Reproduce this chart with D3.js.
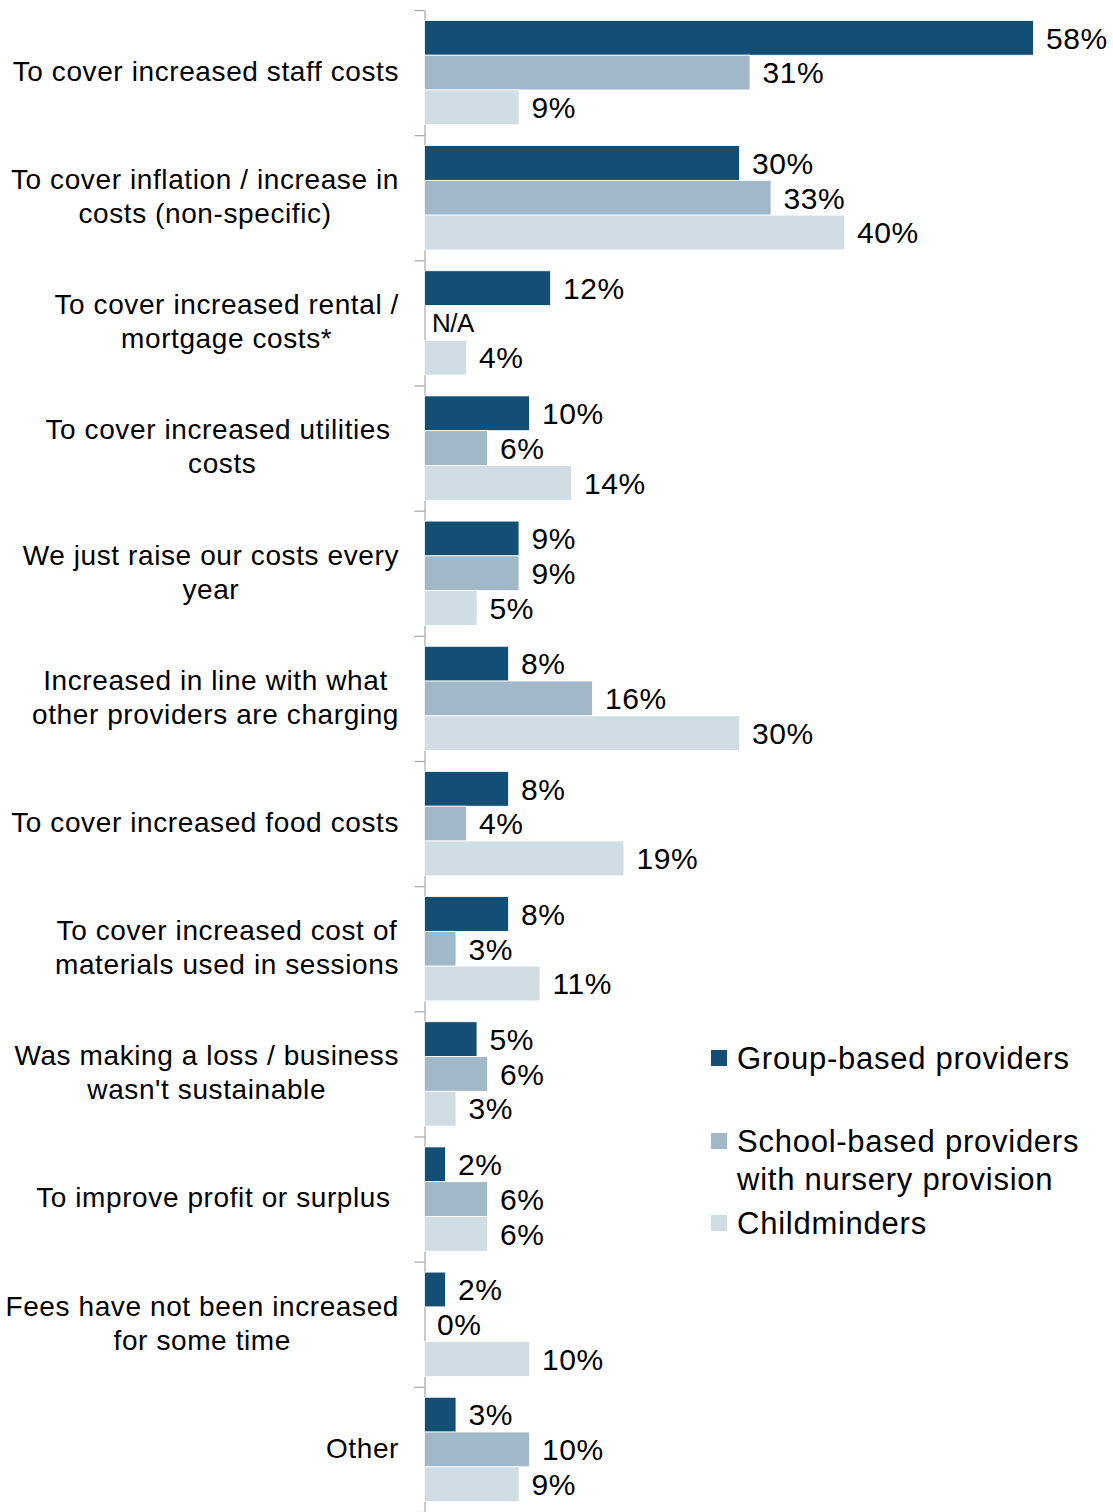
<!DOCTYPE html>
<html>
<head>
<meta charset="utf-8">
<script src="https://cdn.jsdelivr.net/npm/d3@7"></script>
<style>
	body { margin: 0; background: #fff; }
	text { font-family: 'Liberation Sans', Arial, sans-serif; fill: #000; white-space: pre; }
</style>
</head>
<body>
<svg id="chart" width="1113" height="1512"></svg>
<script>
// category labels, one entry per line
const categories = [
	['To cover increased staff costs'],
	['To cover inflation / increase in', 'costs (non-specific)'],
	['To cover increased rental /', 'mortgage costs*'],
	['To cover increased utilities ', 'costs'],
	['We just raise our costs every', 'year'],
	['Increased in line with what', 'other providers are charging'],
	['To cover increased food costs'],
	['To cover increased cost of', 'materials used in sessions'],
	['Was making a loss / business', "wasn't sustainable"],
	['To improve profit or surplus '],
	['Fees have not been increased', 'for some time'],
	['Other']
]

const seriesNames = ['Group-based providers', 'School-based providers\nwith nursery provision', 'Childminders']
const groupBased = [58, 30, 12, 10, 9, 8, 8, 8, 5, 2, 2, 3]
const schoolBased = [31, 33, null, 6, 9, 16, 4, 3, 6, 6, 0, 10]
const childminders = [9, 40, 4, 14, 5, 30, 19, 11, 3, 6, 10, 9]
const colors = ['#134f74', '#a0b8c8', '#d0dde5']

const series = [groupBased, schoolBased, childminders]

const svg = d3.select('#chart')

let y = d3.scaleBand()
	.domain(d3.range(categories.length))
	.range([10, 1512])

let inner = d3.scaleBand()
	.domain(d3.range(series.length))
	.range([0, y.bandwidth()])
	.paddingOuter(0.3)

let x = d3.scaleLinear()
	.domain([0, 60])
	.range([424, 1054])

// axis with ticks on category boundaries
let edges = d3.scaleLinear()
	.domain([0, categories.length])
	.range([10, 1512])

svg.append('g')
	.attr('transform', 'translate(424.5,0)')
	.call(
		d3.axisLeft(edges)
			.tickValues(d3.range(categories.length + 1))
			.tickFormat('')
			.tickSize(10)
			.tickSizeOuter(0)
	)
	.call(g => g.selectAll('line, path').attr('stroke', '#a6a6a6').attr('stroke-width', 1.2))

series.forEach((values, s) => {
	let rows = values.map((v, i) => ({v, i}))
	let g = svg.append('g').attr('class', 'series-' + s)

	g.selectAll('rect')
		.data(rows.filter(d => d.v !== null))
		.join('rect')
		.attr('x', x(0) + 0.5)
		.attr('y', d => y(d.i) + inner(s))
		.attr('width', d => x(d.v) - x(0))
		.attr('height', inner.bandwidth())
		.attr('fill', colors[s])
		.attr('stroke', '#fff')
		.attr('stroke-width', 0.8)

	g.selectAll('text')
		.data(rows)
		.join('text')
		.attr('x', d => d.v === null ? x(0) + 8 : x(d.v) + 13)
		.attr('y', d => y(d.i) + inner(s) + inner.bandwidth() / 2)
		.attr('dy', '0.36em')
		.style('font-size', d => d.v === null ? '26px' : '30px')
		.style('letter-spacing', d => d.v === null ? '-0.5px' : '0.6px')
		.text(d => d.v === null ? 'N/A' : d.v + '%')
})

// category labels: lines centred on each other, block right aligned
const labelRight = 399
const lineGap = 34

svg.selectAll('.cat')
	.data(categories)
	.join('g')
	.attr('class', 'cat')
	.attr('transform', (d, i) => `translate(0,${y(i)})`)
	.each(function(lines) {
		let texts = d3.select(this).selectAll('text')
			.data(lines)
			.join('text')
			.style('font-size', '28px')
			.style('letter-spacing', '0.6px')
			.attr('text-anchor', 'middle')
			.text(d => d)
		let widest = d3.max(texts.nodes(), n => n.getComputedTextLength())
		let cy = y.bandwidth() / 2
		texts
			.attr('x', labelRight - widest / 2)
			.attr('y', (d, k) => cy + (k - (lines.length - 1) / 2) * lineGap)
			.attr('dy', '0.3em')
	})

// legend
const legendTop = [1058, 1141, 1223]

let legend = svg.selectAll('.legend')
	.data(seriesNames)
	.join('g')
	.attr('class', 'legend')
	.attr('transform', (d, i) => `translate(711,${legendTop[i]})`)

legend.append('rect')
	.attr('y', -8)
	.attr('width', 16)
	.attr('height', 16)
	.attr('fill', (d, i) => colors[i])

legend.append('text')
	.style('font-size', '31px')
	.style('letter-spacing', '0.75px')
	.selectAll('tspan')
	.data(d => d.split('\n'))
	.join('tspan')
	.attr('x', 26)
	.attr('y', (d, k) => k * 38)
	.attr('dy', '0.36em')
	.text(d => d)
</script>
</body>
</html>
